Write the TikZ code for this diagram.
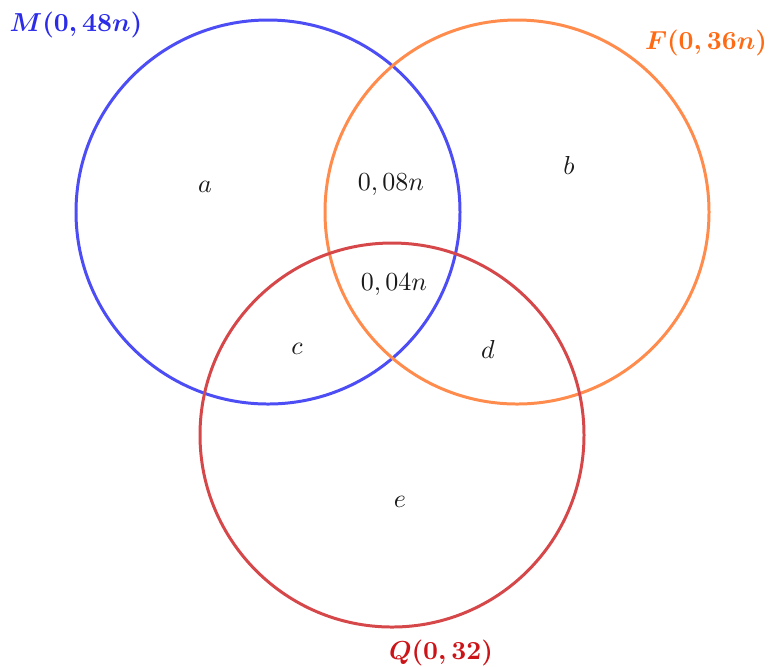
\documentclass[tikz,border=0pt]{standalone}
\usepackage{amsmath}
\usetikzlibrary{positioning}
\definecolor{cMale}{HTML}{4D4DF5}
\definecolor{cMaleText}{HTML}{2B2BE8}
\definecolor{cFem}{HTML}{FF8C4D}
\definecolor{cFemText}{HTML}{FF6A14}
\definecolor{cQual}{HTML}{D6474A}
\definecolor{cQualText}{HTML}{CC1418}
\definecolor{cInk}{HTML}{1A1A1A}

\begin{document}
\begin{tikzpicture}[
  x=0.3846pt, y=-0.3846pt,
  set/.style={line width=1.15pt},
  setlab/.style={font=\bfseries, inner sep=0pt},
  zone/.style={text=cInk, inner sep=0pt},
]
\useasboundingbox (0,0) rectangle (773,666);

% ---- Sets ----
\coordinate (cM) at (268,212);
\coordinate (cF) at (517,212);
\coordinate (cQ) at (392,435);
\draw[set, cMale] (cM) circle[radius=192];
\draw[set, cFem]  (cF) circle[radius=192];
\draw[set, cQual] (cQ) circle[radius=192];

% ---- Set names ----
\node[setlab, text=cMaleText] (labM) at (76,25) {$\boldsymbol{M(0,48n)}$};
\node[setlab, text=cFemText]  (labF) at (706,43) {$\boldsymbol{F(0,36n)}$};
\node[setlab, text=cQualText] (labQ) at (441,653) {$\boldsymbol{Q(0,32)}$};

% ---- Regions ----
\node[zone] (ra)  at (205,187) {$a$};
\node[zone] (rMF) at (391,185) {$0,08n$};
\node[zone] (rb)  at (569,165) {$b$};
\node[zone] (rMFQ) at (394,285) {$0,04n$};
\node[zone] (rc)  at (297,349) {$c$};
\node[zone] (rd)  at (488,349) {$d$};
\node[zone] (re)  at (400,502) {$e$};

\end{tikzpicture}
\end{document}
